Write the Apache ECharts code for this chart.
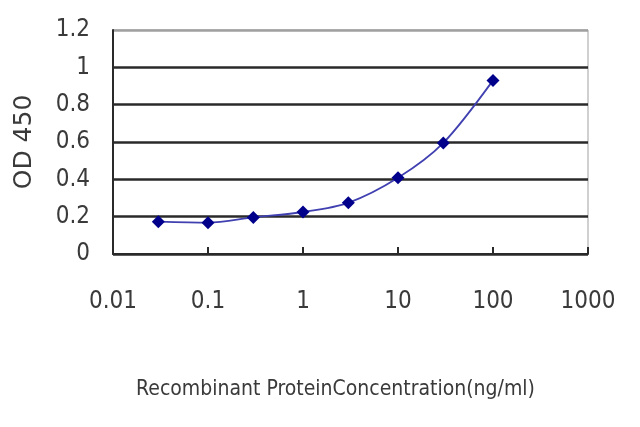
<!DOCTYPE html>
<html>
<head>
<meta charset="utf-8">
<script src="https://cdn.jsdelivr.net/npm/echarts@6/dist/echarts.min.js"></script>
<style>
  html, body { margin: 0; padding: 0; background: #fff; }
  #chart { width: 640px; height: 427px; }
</style>
</head>
<body>
<div id="chart"></div>
<script>
// concentration (ng/ml) and OD 450 readings
var concentrations = [0.03, 0.1, 0.3, 1, 3, 10, 30, 100];
var odValues = [0.173, 0.168, 0.196, 0.225, 0.274, 0.408, 0.595, 0.93];
var xTicks = [0.01, 0.1, 1, 10, 100, 1000];
var yTicks = [0, 0.2, 0.4, 0.6, 0.8, 1, 1.2];

var font = "'DejaVu Sans Condensed', 'DejaVu Sans', sans-serif";

var chart = echarts.init(document.getElementById('chart'));

var points = [];
for (var i = 0; i < concentrations.length; i++) {
    points.push([concentrations[i], odValues[i]]);
}

// grid line colours: black, top one grey like the frame
var gridColors = [];
for (var j = 0; j < yTicks.length; j++) {
    gridColors.push(j == yTicks.length - 1 ? '#a0a0a0' : '#2a2a2a');
}

var option = {
    animation: false,
    grid: {
        left: 113, right: 52, top: 30, bottom: 173,
        show: true, borderColor: '#a0a0a0', borderWidth: 1
    },
    xAxis: {
        type: 'log',
        logBase: 10,
        min: xTicks[0],
        max: xTicks[xTicks.length - 1],
        name: 'Recombinant ProteinConcentration(ng/ml)',
        nameLocation: 'middle',
        nameGap: 125,
        nameTextStyle: { fontFamily: font, fontSize: 21, color: '#3a3a3a', padding: [0, 30, 0, 0] },
        axisLine: { lineStyle: { color: '#2a2a2a', width: 2 } },
        axisTick: { inside: true, length: 7, lineStyle: { color: '#2a2a2a', width: 2 } },
        axisLabel: {
            margin: 36, fontFamily: font, fontSize: 24, color: '#3a3a3a',
            formatter: function (v) { return String(+v.toPrecision(3)); }
        },
        splitLine: { show: false }
    },
    yAxis: {
        type: 'value',
        min: 0,
        max: 1.2,
        interval: 0.2,
        name: 'OD 450',
        nameLocation: 'middle',
        nameGap: 76,
        nameTextStyle: { fontFamily: "'DejaVu Sans', sans-serif", fontSize: 25, color: '#3a3a3a' },
        axisLine: { show: true, lineStyle: { color: '#2a2a2a', width: 2 } },
        axisTick: { show: false },
        axisLabel: {
            margin: 23, fontFamily: font, fontSize: 24, color: '#3a3a3a',
            formatter: function (v) { return String(+v.toFixed(1)); }
        },
        splitLine: { show: true, lineStyle: { color: gridColors, width: 2.5 } }
    },
    series: [{
        type: 'line',
        data: points,
        smooth: 0.3,
        symbol: 'diamond',
        symbolSize: 13,
        itemStyle: { color: '#00008b' },
        lineStyle: { color: '#4040b0', width: 1.8 }
    }]
};

chart.setOption(option);
</script>
</body>
</html>
